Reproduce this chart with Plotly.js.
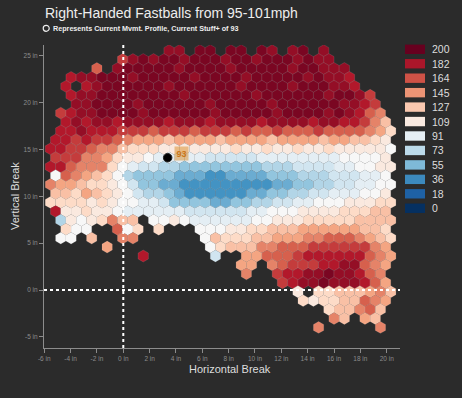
<!DOCTYPE html>
<html><head><meta charset="utf-8">
<script src="https://cdn.plot.ly/plotly-3.0.1.min.js"></script>
<style>html,body{margin:0;padding:0;background:#2b2b2b;}#chart{width:462px;height:398px;}</style>
</head><body><div id="chart"></div>
<script>
// ---- data ----
const legendValues = [200,182,164,145,127,109,91,73,55,36,18,0];
const xTickVals = [-6,-4,-2,0,2,4,6,8,10,12,14,16,18,20];
const yTickVals = [-5,0,5,10,15,20,25];
const profileX = [3.37];
const profileY = [14.12];
const profileStuff = [93];
// each char = Stuff+ level, '.' = empty bin
const levelCodes  = "0123456789ABCDEFGHIJK";
const levelValues = [0,10,20,30,40,50,60,70,80,90,100,110,120,130,140,150,160,170,180,188,195];
const hexRows = [
  "..........." + "JJ.KK.KK.KJ.JK.J" + ".......",
  "......." + "HJ" + "KJKKJKKKJKKJKKKJKJJ" + "......",
  "...." + "G." + "JKKKKKJKKKKJKKKKKJKKJJJ" + ".....",
  ".." + "IJJKKKJKKKKKJKKKKJKKKKKJKJJI" + "....",
  "." + "I." + "IJKKKKKKJKKKKKKJKKKKJKKKJJI" + "....",
  ".." + "IJJKKKKKKKKJKKKKKKJKKKKKKJKKJH" + "..",
  ".." + "JJKKKKJKKKKKKJKKKKKJKKKKKKJJIH" + "..",
  "." + "HIJJKKKKJKKKKKKJKKKKKJKKKKJKJIGF" + ".",
  "." + "IJIJJIJJ" + "JJIJJJIJJJJIJJJJIJJI" + "IHFD" + ".",
  "." + "IIJIII" + "HHHGHHHGHHHGH" + "GGHGGGHGGG" + "GFEC",
  "IIHIHHGFE" + "EEDEEEEDEEEEDEEEEDEE" + "DDCB" + ".",
  "IIHH" + "GFF" + "DCCC" + "BBBBBB" + "BCBBCBBCBBCBBBB" + "BA",
  "HHH" + "FFE" + "CBB" + "A9999988" + "88899999999AAA" + "AB" + ".",
  "II" + "GFFF" + "CA" + "98877666" + "6666677788" + "8899AAB" + "B",
  "AGF" + "EDC" + "A" + "76666" + "5554455" + "55666777" + "88899A" + ".",
  "FEE" + "DCC" + "B" + "A8" + "665" + "54444444" + "445566" + "778899A" + "A",
  "DDC" + "EDC" + "BA" + "8776" + "54444" + "44556" + "6778" + "8999AAB" + ".",
  "CCCCBC" + "BA" + "A998" + "6666556" + "677889" + "9AAABBBC" + "C",
  "I" + "BBCB" + "BA" + "99" + "9999" + "8888" + "8899A" + "AABBB" + "BCCCDD" + ".",
  "." + "7" + "BAB" + "C" + "F" + "D" + "D" + "." + "AAB" + "A999" + "999A" + "ABBBC" + "CCCCDD" + "DD",
  "." + "C" + "AA" + ".." + "G" + "A" + "C" + "." + "C" + "..." + "AAABBCCDDDEEEEEEDDC" + ".",
  "." + "AA" + "." + "D" + ".." + "FF" + "......" + "ADCCCDDEEEFFGGGFEDC",
  "....." + "E" + "........." + "ACDDD" + "FFGGG" + "HHHHHH" + "FE" + ".",
  "........." + "I" + "......" + "8" + ".." + "EE" + "GGGH" + "IIIIII" + "GFE",
  ".................." + "EE" + "." + "F" + "GHHH" + "IIJJ" + "GFE" + ".",
  "..................." + "F..HIIJJKJJIGF" + ".",
  "......................" + "HIJJKJJJIG" + "E" + ".",
  "........................" + "B" + "." + "CCDDDEFD",
  "........................" + "CB" + "CCDDGFE" + ".",
  "..........................." + "CDDFGD" + ".",
  "..........................." + "FD.ED" + "..",
  ".........................." + "F" + "....." + "F" + "."
];

// ---- styling / geometry ----
const colorStops = ['#053061','#2166ac','#4393c3','#92c5de','#d1e5f0','#f7f7f7','#fddbc7','#f4a582','#d6604d','#b2182b','#67001f'];
const colorscale = colorStops.map((c,i)=>[i/(colorStops.length-1), c]);
function colorFor(v){
  const t = Math.max(0, Math.min(1, v/200)) * (colorStops.length-1);
  const i = Math.min(Math.floor(t), colorStops.length-2), f = t - i;
  const a = colorStops[i], b = colorStops[i+1];
  const p = (h,k)=>parseInt(h.substr(1+2*k,2),16);
  const rgb = [0,1,2].map(k=>Math.round(p(a,k)+(p(b,k)-p(a,k))*f));
  return 'rgb('+rgb.join(',')+')';
}
const HX0 = -0.05, HDX = 0.783, HY0 = 25.55, HDY = 0.953;
const hx=[], hy=[], hv=[];
hexRows.forEach((row,n)=>{
  for(let c=0;c<row.length;c++){
    const ch=row[c]; if(ch==='.') continue;
    hx.push(HX0 + (c - 7 + (n%2===0 ? 0.5 : 0))*HDX);
    hy.push(HY0 - n*HDY);
    hv.push(levelValues[levelCodes.indexOf(ch)]);
  }
});

const W=462,H=398,ML=44,MR=62,MT=45,MB=50;
const PW=W-ML-MR, PH=H-MT-MB;
const px2x = x => (x-ML)/PW;
const py2y = y => 1-(y-MT)/PH;
const FONT = 'Liberation Sans, Arial, sans-serif';

const traces = [
  {type:'scatter', mode:'markers', x:hx, y:hy, hoverinfo:'skip',
   marker:{symbol:'hexagon', size:11.9, color:hv, cmin:0, cmax:200, colorscale:colorscale, showscale:false,
           line:{color:'rgba(255,255,255,0.18)', width:0.6}}},
  {type:'scatter', mode:'markers', x:profileX, y:profileY, hoverinfo:'skip',
   marker:{size:8.5, color:'#000', line:{color:'#222', width:1}}}
];

const shapes = [
  {type:'line', xref:'x', yref:'paper', x0:0, x1:0, y0:0, y1:1, line:{color:'#ffffff', width:2, dash:'dot'}},
  {type:'line', xref:'paper', yref:'y', x0:0, x1:1, y0:0, y1:0, line:{color:'#ffffff', width:2, dash:'dot'}},
  {type:'circle', xref:'paper', yref:'paper', x0:px2x(43.2), x1:px2x(49.2), y0:py2y(31.3), y1:py2y(25.3), line:{color:'#eeeeee', width:1.2}}
];
const annotations = [
  {text:'Right-Handed Fastballs from 95-101mph', xref:'paper', yref:'paper', x:px2x(43), y:py2y(13.5), xanchor:'left', yanchor:'middle', showarrow:false,
   font:{family:FONT, size:14, color:'#eeeeee'}},
  {text:'<b>Represents Current Mvmt. Profile, Current Stuff+ of ' + profileStuff[0] + '</b>', xref:'paper', yref:'paper', x:px2x(50.5), y:py2y(28.5), xanchor:'left', yanchor:'middle', showarrow:false,
   font:{family:FONT, size:7.2, color:'#eeeeee'}},
  {text:'Horizontal Break', xref:'paper', yref:'paper', x:px2x(230), y:py2y(369), xanchor:'center', yanchor:'middle', showarrow:false,
   font:{family:FONT, size:11, color:'#dddddd'}},
  {text:'Vertical Break', xref:'paper', yref:'paper', x:px2x(15), y:py2y(196), xanchor:'center', yanchor:'middle', showarrow:false, textangle:-90,
   font:{family:FONT, size:11, color:'#dddddd'}},
  {text:'<b>' + profileStuff[0] + '</b>', xref:'x', yref:'y', x:profileX[0]+1.05, y:profileY[0]+0.5, showarrow:false,
   font:{family:FONT, size:9, color:'#c9761a'}, bgcolor:'rgba(215,140,40,0.5)', borderpad:1.5}
];
legendValues.forEach((v,i)=>{
  const yc = 49.3 + i*14.45;
  shapes.push({type:'rect', xref:'paper', yref:'paper', x0:px2x(405), x1:px2x(425), y0:py2y(yc+4.7), y1:py2y(yc-4.7),
    fillcolor:colorFor(v), line:{width:0}});
  annotations.push({text:String(v), xref:'paper', yref:'paper', x:px2x(430), y:py2y(yc), xanchor:'left', yanchor:'middle', showarrow:false,
    font:{family:FONT, size:10.5, color:'#dddddd'}});
});

const axisCommon = {showgrid:false, zeroline:false, showline:true, linecolor:'#8c8c8c', linewidth:1, ticks:'outside', ticklen:4, tickcolor:'#8c8c8c',
  tickfont:{family:FONT, size:6.5, color:'#8c8c8c'}, fixedrange:true};
const layout = {
  width:W, height:H, margin:{l:ML, r:MR, t:MT, b:MB, pad:0},
  paper_bgcolor:'#2b2b2b', plot_bgcolor:'#2b2b2b', showlegend:false,
  xaxis:Object.assign({}, axisCommon, {range:[-6.02, 21.01], tickvals:xTickVals, ticktext:xTickVals.map(v=>v+' in')}),
  yaxis:Object.assign({}, axisCommon, {range:[-6.19, 26.15], tickvals:yTickVals, ticktext:yTickVals.map(v=>v+' in')}),
  shapes:shapes, annotations:annotations
};
Plotly.newPlot('chart', traces, layout, {displayModeBar:false, staticPlot:true});
</script>
</body></html>
